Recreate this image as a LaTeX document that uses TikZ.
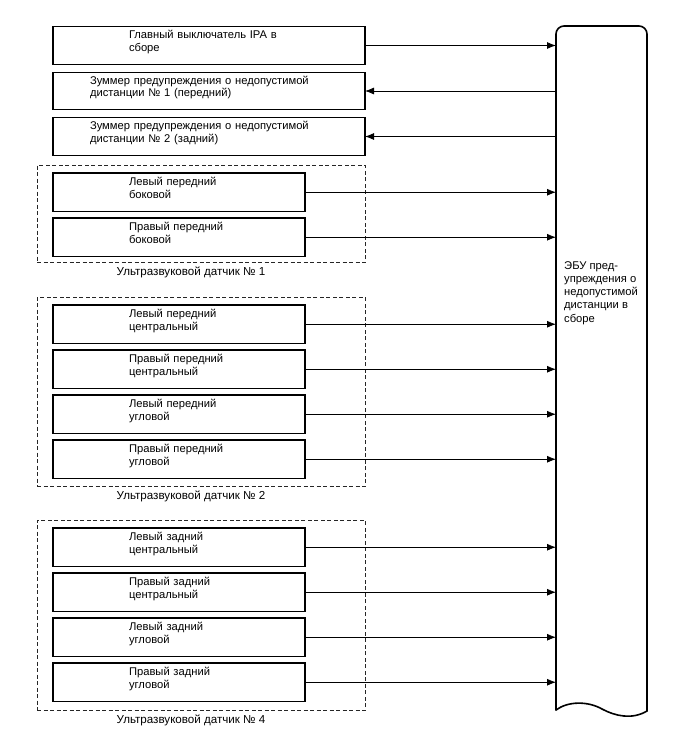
\documentclass[tikz,border=0pt]{standalone}
\usepackage{fontspec}
\setmainfont{Liberation Sans}
\usepackage{tikz}
\usetikzlibrary{positioning}
\usetikzlibrary{fit}
\usetikzlibrary{arrows.meta}
\tikzset{
panel_item/.style={rectangle, draw, line width=1.4pt, outer sep=0pt, inner sep=0pt, minimum width=312pt, minimum height=37.5pt, text width=238pt, align=left, text height=8pt, text depth=22pt, font=\fontsize{11.2}{12.8}\selectfont},
sensor_item/.style={rectangle, draw, line width=1.4pt, outer sep=0pt, inner sep=0pt, minimum width=252pt, minimum height=38.5pt, text width=100pt, align=left, text height=8pt, text depth=22pt, font=\fontsize{11.2}{12.8}\selectfont},
group_frame/.style={rectangle, draw, color=black!85, line width=0.8pt, dash pattern=on 4pt off 2.5pt, inner sep=0pt},
group_label/.style={inner sep=0pt, font=\fontsize{11.6}{12}\selectfont},
ecu_box/.style={rectangle, minimum width=91pt, minimum height=684pt, inner sep=0pt, outer sep=0pt},
ecu_text/.style={inner sep=0pt, align=left, font=\fontsize{11.2}{13.3}\selectfont},
ecu_line/.style={line width=1.6pt, line cap=round},
signal/.style={line width=0.8pt, -{Latex[length=9pt,width=7pt]}}
}

\begin{document}
\begin{tikzpicture}[x=1pt, y=-1pt]
    \useasboundingbox (0,0) rectangle (688,755);
    \node[ecu_box] (ecu) at (601.5,368) {};
    \draw[ecu_line, rounded corners=8pt] (ecu.south west) -- (ecu.north west) -- (ecu.north east) -- ([yshift=-1pt]ecu.south east);
    \draw[ecu_line] ([yshift=-1pt]ecu.south east) .. controls (632,720) and (615,716) .. (602,709) .. controls (588,701) and (568,701) .. (ecu.south west);
    \node[ecu_text, anchor=north west] (ecu_label) at ([shift={(8pt,-235pt)}]ecu.north west) {ЭБУ пред-\\упреждения о\\недопустимой\\дистанции в\\сборе};

    \node[panel_item, text width=160pt] (ipa_switch) at (209,45.5) {Главный выключатель IPA в\\сборе};
    \node[panel_item] (buzzer_1) [below=8pt of ipa_switch] {Зуммер предупреждения о недопустимой\\дистанции № 1 (передний)};
    \node[panel_item] (buzzer_2) [below=8pt of buzzer_1] {Зуммер предупреждения о недопустимой\\дистанции № 2 (задний)};

    \node[sensor_item] (s1_1) at (179,192.25) {Левый передний\\боковой};
    \node[sensor_item] (s1_2) [below=6.5pt of s1_1] {Правый передний\\боковой};
    \node[sensor_item] (s2_1) [below=48.5pt of s1_2] {Левый передний\\центральный};
    \node[sensor_item] (s2_2) [below=6.5pt of s2_1] {Правый передний\\центральный};
    \node[sensor_item] (s2_3) [below=6.5pt of s2_2] {Левый передний\\угловой};
    \node[sensor_item] (s2_4) [below=6.5pt of s2_3] {Правый передний\\угловой};
    \node[sensor_item] (s4_1) [below=49.5pt of s2_4] {Левый задний\\центральный};
    \node[sensor_item] (s4_2) [below=6.5pt of s4_1] {Правый задний\\центральный};
    \node[sensor_item] (s4_3) [below=6.5pt of s4_2] {Левый задний\\угловой};
    \node[sensor_item] (s4_4) [below=6.5pt of s4_3] {Правый задний\\угловой};

    \node[group_frame, fit={([shift={(-16pt,8pt)}]s1_1.north west) ([shift={(60pt,-6pt)}]s1_2.south east)}] (group_1) {};
    \node[group_frame, fit={([shift={(-16pt,8pt)}]s2_1.north west) ([shift={(60pt,-8pt)}]s2_4.south east)}] (group_2) {};
    \node[group_frame, fit={([shift={(-16pt,8pt)}]s4_1.north west) ([shift={(60pt,-9pt)}]s4_4.south east)}] (group_4) {};
    \node[group_label, below=3.5pt of group_1, xshift=-10pt] (group_1_label) {Ультразвуковой датчик № 1};
    \node[group_label, below=3.5pt of group_2, xshift=-10pt] (group_2_label) {Ультразвуковой датчик № 2};
    \node[group_label, below=3.5pt of group_4, xshift=-10pt] (group_4_label) {Ультразвуковой датчик № 4};

    \draw[signal] (ipa_switch.east) -- (ipa_switch.east -| ecu.west);
    \draw[signal] (buzzer_1.east -| ecu.west) -- (buzzer_1.east);
    \draw[signal] (buzzer_2.east -| ecu.west) -- (buzzer_2.east);
    \draw[signal] (s1_1.east) -- (s1_1.east -| ecu.west);
    \draw[signal] (s1_2.east) -- (s1_2.east -| ecu.west);
    \draw[signal] (s2_1.east) -- (s2_1.east -| ecu.west);
    \draw[signal] (s2_2.east) -- (s2_2.east -| ecu.west);
    \draw[signal] (s2_3.east) -- (s2_3.east -| ecu.west);
    \draw[signal] (s2_4.east) -- (s2_4.east -| ecu.west);
    \draw[signal] (s4_1.east) -- (s4_1.east -| ecu.west);
    \draw[signal] (s4_2.east) -- (s4_2.east -| ecu.west);
    \draw[signal] (s4_3.east) -- (s4_3.east -| ecu.west);
    \draw[signal] (s4_4.east) -- (s4_4.east -| ecu.west);
\end{tikzpicture}
\end{document}
